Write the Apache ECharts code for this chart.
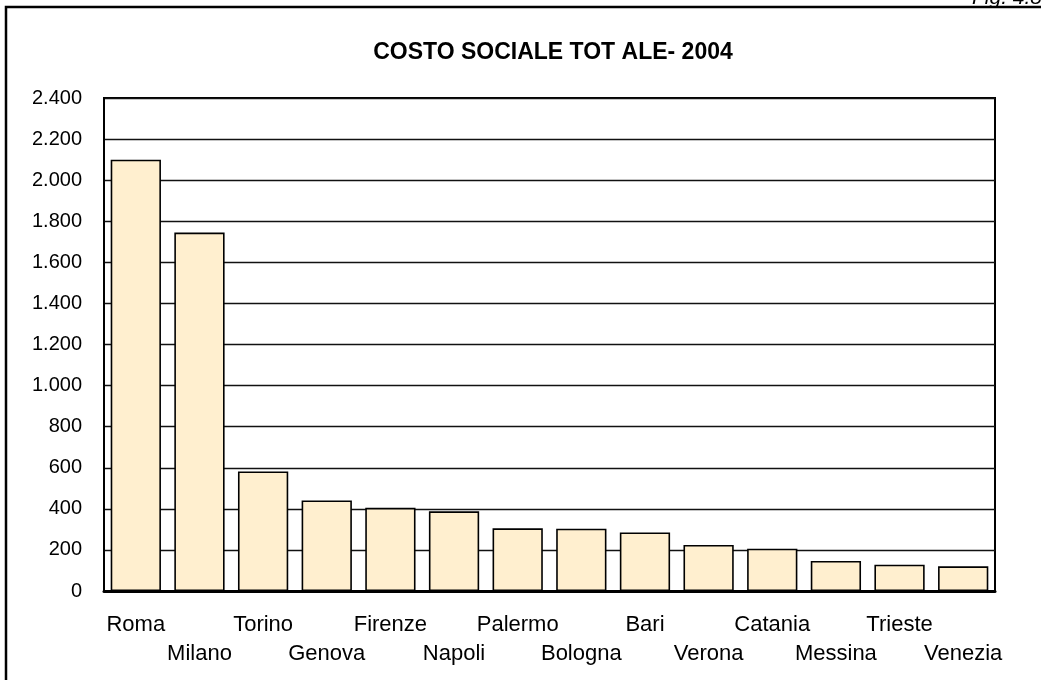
<!DOCTYPE html>
<html>
<head>
<meta charset="utf-8">
<title>Costo sociale totale - 2004</title>
<script src="https://cdn.jsdelivr.net/npm/echarts@6/dist/echarts.min.js"></script>
<style>
  html, body { margin: 0; padding: 0; background: #ffffff; }
  #chart { width: 1041px; height: 680px; }
</style>
</head>
<body>
<div id="chart"></div>
<script>
// Città e costo sociale totale (2004)
const cities = ['Roma', 'Milano', 'Torino', 'Genova', 'Firenze', 'Napoli', 'Palermo',
  'Bologna', 'Bari', 'Verona', 'Catania', 'Messina', 'Trieste', 'Venezia'];
const costs = [2100, 1745, 582, 441, 405, 388, 305, 303, 285, 224, 206, 146, 128, 120];

const titleText = 'COSTO SOCIALE TOT ALE- 2004';
const figureText = 'Fig. 4.8';

const yMin = 0;
const yMax = 2400;
const yStep = 200;

// numeri con separatore delle migliaia all'italiana
function itNumber(v) {
  return String(Math.round(v)).replace(/\B(?=(\d{3})+(?!\d))/g, '.');
}

const FONT = '"Liberation Sans", Arial, sans-serif';

const chart = echarts.init(document.getElementById('chart'), null, { renderer: 'canvas' });

chart.setOption({
  backgroundColor: '#ffffff',
  animation: false,
  title: {
    text: titleText,
    left: 548,
    textAlign: 'center',
    top: 36,
    textStyle: { fontFamily: FONT, fontSize: 23, fontWeight: 'bold', color: '#000' }
  },
  graphic: [
    {
      type: 'rect',
      shape: { x: 6, y: 7, width: 1200, height: 1000 },
      style: { fill: 'none', stroke: '#000', lineWidth: 2.5 },
      silent: true
    },
    {
      type: 'text',
      x: 972,
      y: 9,
      style: {
        text: figureText,
        font: 'italic 21px "Liberation Sans", Arial, sans-serif',
        fill: '#000',
        textVerticalAlign: 'bottom'
      },
      silent: true
    }
  ],
  grid: {
    left: 104,
    right: 46,
    top: 98,
    bottom: 89,
    containLabel: false,
    outerBoundsMode: 'none',
    show: true,
    borderColor: '#000',
    borderWidth: 2,
    backgroundColor: 'transparent'
  },
  xAxis: {
    type: 'category',
    data: cities,
    axisLine: { show: true, lineStyle: { color: '#000', width: 3 } },
    axisTick: { show: false },
    axisLabel: {
      interval: 0,
      margin: 19,
      fontFamily: FONT,
      fontSize: 22,
      color: '#000',
      lineHeight: 29,
      formatter: function (value, idx) {
        return idx % 2 === 1 ? '\n' + value : value;
      }
    }
  },
  yAxis: {
    type: 'value',
    min: yMin,
    max: yMax,
    interval: yStep,
    axisLine: { show: true, lineStyle: { color: '#000', width: 2 } },
    axisTick: { show: false },
    splitLine: { show: true, lineStyle: { color: '#111', width: 1.3 } },
    axisLabel: {
      margin: 22,
      fontFamily: FONT,
      fontSize: 20,
      color: '#000',
      formatter: function (v) { return itNumber(v); }
    }
  },
  series: [
    {
      type: 'bar',
      data: costs,
      barCategoryGap: '21%',
      itemStyle: {
        color: '#FFEFCF',
        borderColor: '#000',
        borderWidth: 1.6
      }
    }
  ]
});
</script>
</body>
</html>
